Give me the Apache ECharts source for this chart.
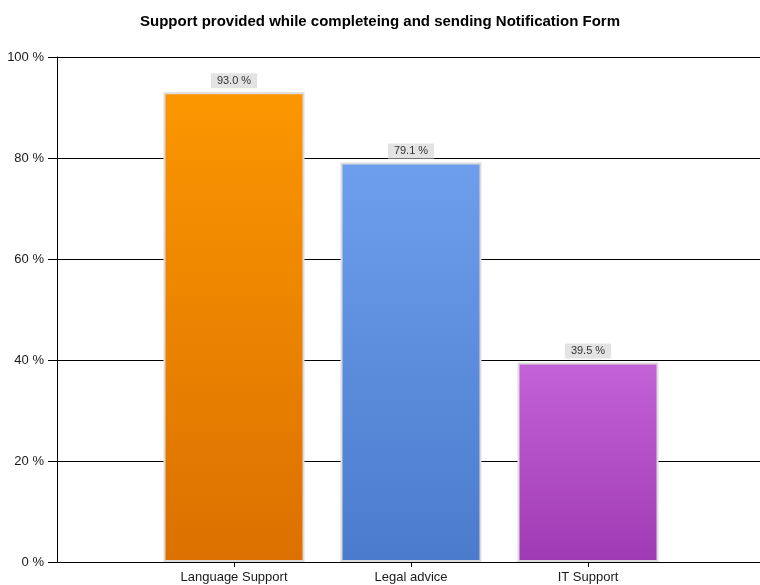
<!DOCTYPE html>
<html>
<head>
<meta charset="utf-8">
<script src="https://cdn.jsdelivr.net/npm/echarts@6/dist/echarts.min.js"></script>
<style>html,body{margin:0;padding:0;background:#fff;}#c{width:760px;height:585px;}</style>
</head>
<body>
<div id="c"></div>
<script>
const titleText = 'Support provided while completeing and sending Notification Form';
const categories = ['', 'Language Support', 'Legal advice', 'IT Support', ''];
const values = [null, 93.0, 79.1, 39.5, null];
const yTicks = [0, 20, 40, 60, 80, 100];
const barColors = [null, ['#fc9600', '#dc7000'], ['#6d9fec', '#4a7bcd'], ['#c462d8', '#a03ab4'], null];

const chart = echarts.init(document.getElementById('c'), null, {renderer: 'canvas'});
const data = values.map((v, i) => v == null ? null : {
  value: v,
  itemStyle: {
    color: {type: 'linear', x: 0, y: 0, x2: 0, y2: 1, colorStops: [
      {offset: 0, color: barColors[i][0]}, {offset: 1, color: barColors[i][1]}]}
  }
});
chart.setOption({
  animation: false,
  title: {
    text: titleText, left: 'center', top: 9,
    textStyle: {fontFamily: 'Liberation Sans, Arial', fontSize: 15, fontWeight: 'bold', color: '#000'}
  },
  grid: {left: 57, right: -5, top: 57, bottom: 23, containLabel: false, outerBoundsMode: 'none'},
  xAxis: {
    type: 'category', data: categories, boundaryGap: false,
    axisLine: {lineStyle: {color: '#000', width: 1}},
    axisTick: {show: true, length: 5, alignWithLabel: true, interval: (i) => i >= 1 && i <= 3, lineStyle: {color: '#000'}},
    axisLabel: {interval: 0, margin: 9, fontFamily: 'Liberation Sans, Arial', fontSize: 13, color: '#1a1a1a'},
    splitLine: {show: false}
  },
  yAxis: {
    type: 'value', min: yTicks[0], max: yTicks[yTicks.length - 1], interval: 20,
    axisLine: {show: true, lineStyle: {color: '#000'}},
    axisTick: {show: true, length: 9, lineStyle: {color: '#000'}},
    axisLabel: {formatter: '{value} %', margin: 13, fontFamily: 'Liberation Sans, Arial', fontSize: 13, color: '#1a1a1a'},
    splitLine: {show: true, lineStyle: {color: '#000', width: 1}}
  },
  series: [{
    type: 'bar', data: data, barWidth: 141,
    itemStyle: {borderColor: '#dcdcdc', borderWidth: 2},
    label: {
      show: true, position: 'top', distance: 4,
      formatter: (p) => p.value.toFixed(1) + ' %',
      fontFamily: 'Liberation Sans, Arial', fontSize: 11, color: '#333',
      backgroundColor: '#e3e3e3', padding: [2, 6, 2, 6]
    }
  }]
});
</script>
</body>
</html>
